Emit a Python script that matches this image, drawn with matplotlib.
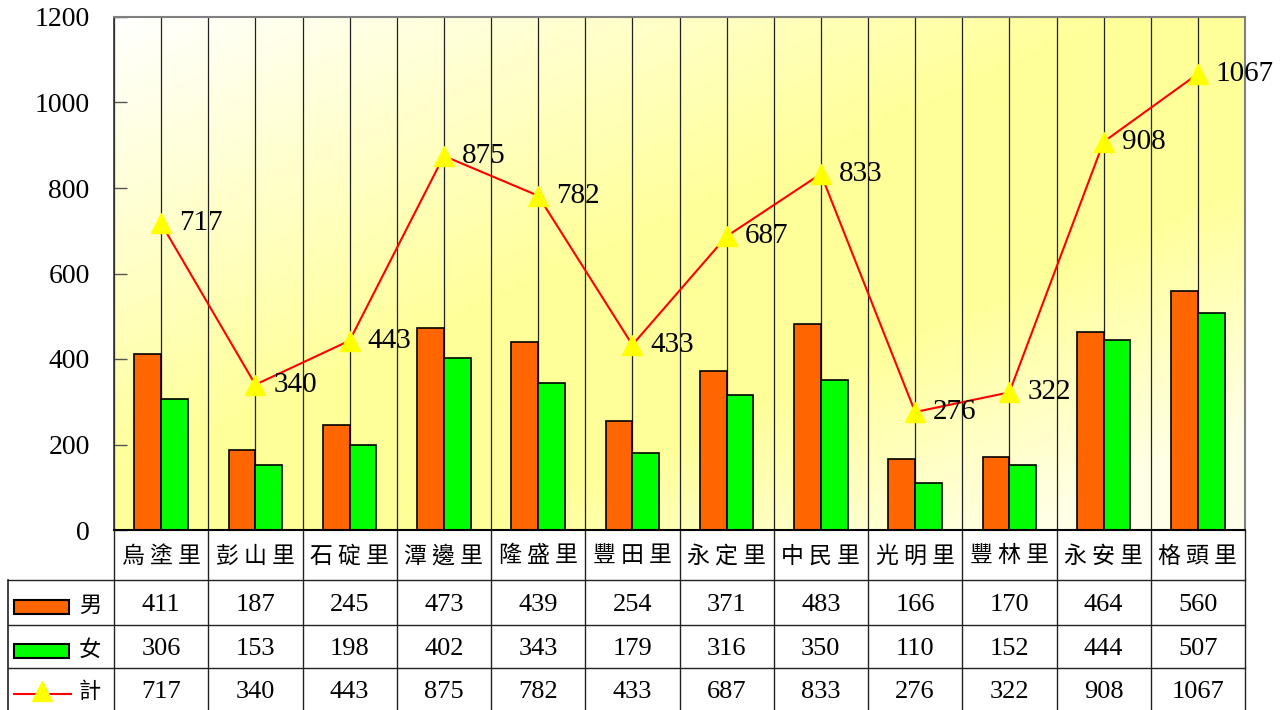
import numpy as np
import matplotlib
matplotlib.use('Agg')
import matplotlib.pyplot as plt
import matplotlib.transforms as mtransforms
from matplotlib.lines import Line2D
from matplotlib.patches import Rectangle

plt.rcParams['font.family'] = ['Liberation Serif', 'Noto Sans CJK TC', 'DejaVu Sans']

# data
villages = ['烏塗里', '彭山里', '石碇里', '潭邊里', '隆盛里', '豐田里',
            '永定里', '中民里', '光明里', '豐林里', '永安里', '格頭里']
male = [411, 187, 245, 473, 439, 254, 371, 483, 166, 170, 464, 560]
female = [306, 153, 198, 402, 343, 179, 316, 350, 110, 152, 444, 507]
total = [717, 340, 443, 875, 782, 433, 687, 833, 276, 322, 908, 1067]
row_names = ['男', '女', '計']

W, H = 1286, 710
fig = plt.figure(figsize=(W / 100, H / 100), dpi=100)
ax = fig.add_axes([114 / W, 1 - 530 / H, (1245 - 114) / W, (530 - 17) / H])

n = len(villages)
x = np.arange(n)

# background gradient: white top-left, yellow band along the diagonal, paler bottom-right
gx = np.linspace(0, 1, 300)[None, :]
gy = np.linspace(0, 1, 200)[:, None]
d = (gx + gy) / 2
blue = np.interp(d, [0, 0.45, 0.66, 0.9, 1.0], [1.0, 0.6, 0.6, 0.9, 0.92])
img = np.dstack([np.ones_like(blue), np.ones_like(blue), blue])
ax.imshow(img, extent=(-0.5, n - 0.5, 0, 1200), aspect='auto', zorder=0)
ax.set_xlim(-0.5, n - 0.5)
ax.set_ylim(0, 1200)

# vertical grid lines at category centres and boundaries
ax.vlines(x, 0, 1200, color='#222222', lw=0.9, zorder=1)
ax.vlines(np.arange(n + 1) - 0.5, 0, 1200, color='#222222', lw=0.9, zorder=1)

bw = 0.285
ax.bar(x - bw / 2, male, bw, color='#FF6600', edgecolor='black', lw=1.2, zorder=2)
ax.bar(x + bw / 2, female, bw, color='#00FF00', edgecolor='black', lw=1.2, zorder=2)
ax.plot(x, total, color='red', lw=1.5, marker='^', markersize=14,
        markerfacecolor='yellow', markeredgecolor='yellow', zorder=3)
for xi, v in zip(x, total):
    ax.annotate(str(v), (xi, v), xytext=(13, 0), textcoords='offset points',
                ha='left', va='center', fontsize=21, zorder=4)

ax.set_yticks(range(0, 1201, 200))
ax.set_xticks([])
ax.tick_params(axis='y', direction='in', length=9, width=1, color='#555555',
               labelsize=20, pad=17.5)
for s in ['top', 'right']:
    ax.spines[s].set_color('#808080')
    ax.spines[s].set_linewidth(1.5)
ax.spines['left'].set_color('#333333')
ax.spines['left'].set_linewidth(1.2)
ax.spines['bottom'].set_color('black')
ax.spines['bottom'].set_linewidth(1.5)

# data table under the plot
tr = mtransforms.blended_transform_factory(ax.transData, fig.transFigure)
fy = lambda py: 1 - py / H
lc = '#222222'

for b in np.arange(n + 1) - 0.5:
    fig.add_artist(Line2D([b, b], [fy(530), fy(710)], transform=tr, color=lc, lw=1))
fig.add_artist(Line2D([8 / W, 8 / W], [fy(580), fy(710)], color=lc, lw=1.2))
for py in [580, 625, 668]:
    fig.add_artist(Line2D([8 / W, 1245 / W], [fy(py), fy(py)], color=lc, lw=1))

for xi, name in zip(x, villages):
    fig.text(xi, fy(556), ' '.join(name), transform=tr, ha='center', va='center',
             fontsize=16.5, family=['Noto Sans CJK TC'])

rows = [male, female, total]
row_y = [605, 649, 692]
for vals, py in zip(rows, row_y):
    for xi, v in zip(x, vals):
        fig.text(xi, fy(py), str(v), transform=tr, ha='center', va='center', fontsize=19)

# legend keys in the table
fig.add_artist(Rectangle((14 / W, fy(614)), 55 / W, 14 / H, facecolor='#FF6600',
                         edgecolor='black', lw=1.5))
fig.add_artist(Rectangle((14 / W, fy(658)), 55 / W, 14 / H, facecolor='#00FF00',
                         edgecolor='black', lw=1.5))
fig.add_artist(Line2D([14 / W, 71 / W], [fy(694), fy(694)], color='red', lw=1.5))
fig.add_artist(Line2D([42 / W], [fy(691)], marker='^', markersize=14,
                      markerfacecolor='yellow', markeredgecolor='yellow'))
for name, py in zip(row_names, row_y):
    fig.text(90 / W, fy(py), name, ha='center', va='center', fontsize=16,
             family=['Noto Sans CJK TC'])

fig.savefig('out.png', dpi=100)
